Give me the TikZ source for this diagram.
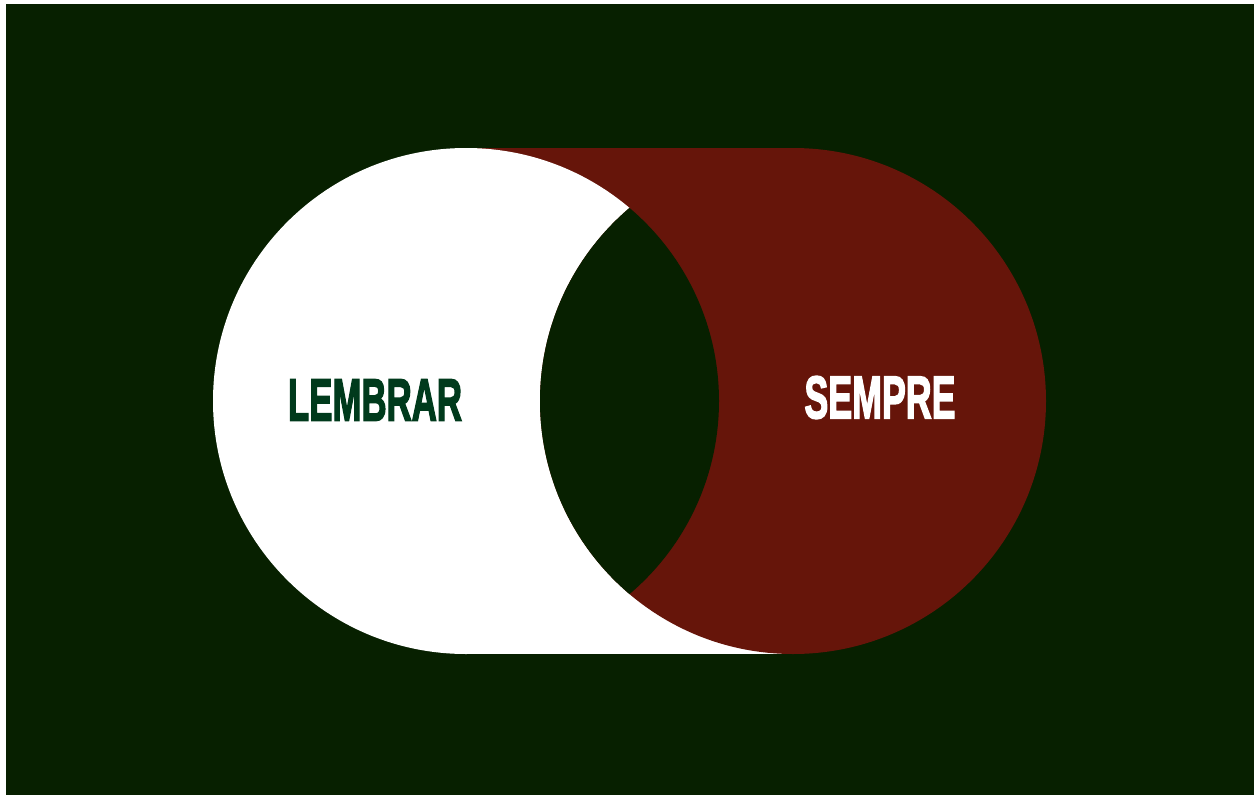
\documentclass[tikz,border=0pt]{standalone}
\usepackage{fontspec}
\setmainfont{Liberation Sans}
\newfontfamily\heavyfont{Liberation Sans}[UprightFont=* Bold, FakeBold=3]
\usepackage{graphicx}
\definecolor{bgc}{HTML}{072000}
\definecolor{redc}{HTML}{66150A}
\definecolor{txtg}{HTML}{003A1C}
\tikzset{
  label/.style={inner sep=0pt, outer sep=0pt, font=\heavyfont}
}
\begin{document}
\begin{tikzpicture}[x=1pt,y=-1pt]
\useasboundingbox (0,0) rectangle (1254,795);
\fill[white] (0,0) rectangle (1254,795);
\fill[bgc] (6,4) rectangle (1254,795);
% middle band: upper red, lower white
\fill[redc] (466,148) rectangle (793,401.5);
\fill[white] (466,401) rectangle (793,654);
% circles
\fill[white] (466,401) circle[radius=253];
\fill[redc] (793,401) circle[radius=253];
% lens
\begin{scope}
  \clip (466,401) circle[radius=253];
  \fill[bgc] (793,401) circle[radius=253];
\end{scope}
\node[label, text=txtg] (lembrar) at (375,400) {\resizebox{174pt}{41pt}{LEMBRAR}};
\node[label, text=white] (sempre) at (880,397.5) {\resizebox{151pt}{42pt}{SEMPRE}};
\end{tikzpicture}
\end{document}
